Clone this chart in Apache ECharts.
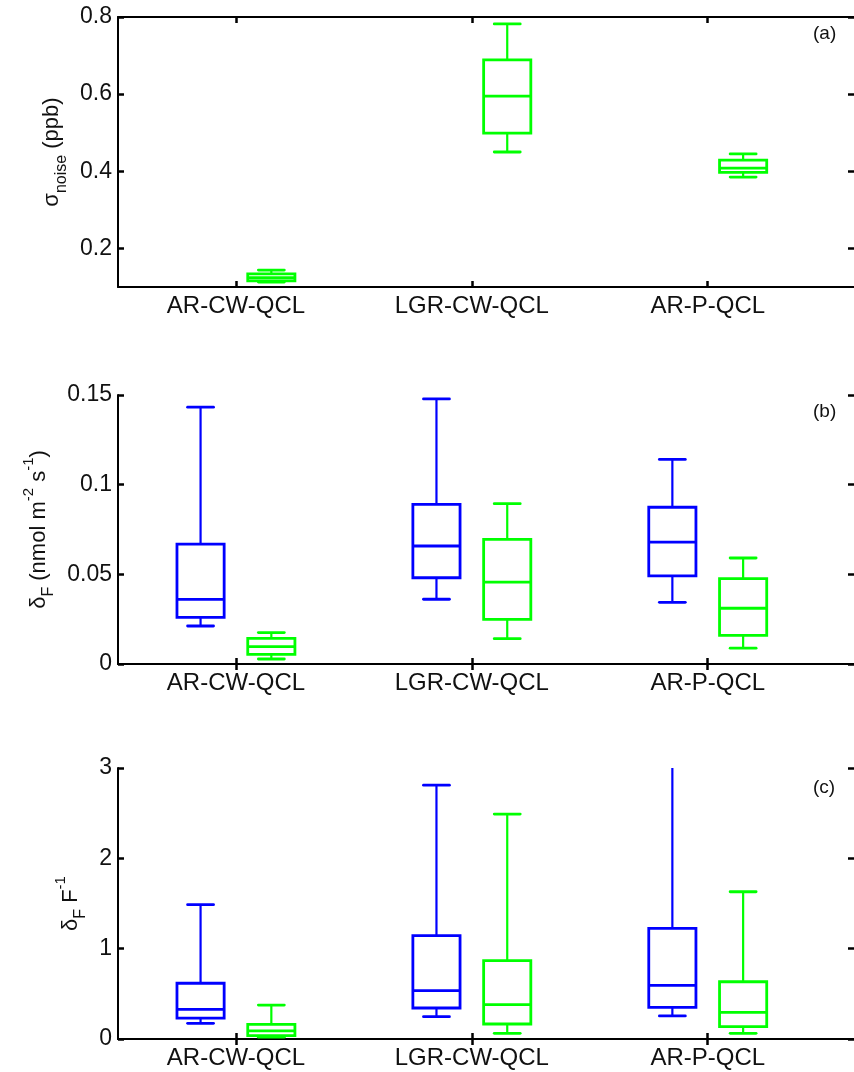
<!DOCTYPE html>
<html lang="en">
<head>
<meta charset="UTF-8">
<title>Noise and flux uncertainty</title>
<script src="https://cdn.jsdelivr.net/npm/echarts@6/dist/echarts.min.js"></script>
<style>
    html, body { margin: 0; padding: 0; background: #fff; }
    #container { width: 854px; height: 1072px; }
</style>
</head>
<body>
<div id="container"></div>
<script type="text/javascript">
    var categories = ['AR-CW-QCL', 'LGR-CW-QCL', 'AR-P-QCL'];

    // box stats per instrument: [min, q1, median, q3, max]
    var noiseGreen = [
        [0.113, 0.116, 0.124, 0.134, 0.144],
        [0.450, 0.499, 0.595, 0.689, 0.782],
        [0.385, 0.397, 0.408, 0.429, 0.445]
    ];
    var fluxBlue = [
        [0.0212, 0.0260, 0.0360, 0.0668, 0.1432],
        [0.0361, 0.0481, 0.0658, 0.0890, 0.1478],
        [0.0344, 0.0491, 0.0680, 0.0874, 0.1141]
    ];
    var fluxGreen = [
        [0.0028, 0.0054, 0.0097, 0.0143, 0.0175],
        [0.0141, 0.0249, 0.0456, 0.0695, 0.0894],
        [0.0088, 0.0160, 0.0311, 0.0476, 0.0591]
    ];
    var relBlue = [
        [0.174, 0.230, 0.329, 0.617, 1.487],
        [0.247, 0.343, 0.535, 1.144, 2.810],
        [0.255, 0.350, 0.594, 1.225, 3.300]
    ];
    var relGreen = [
        [0.020, 0.037, 0.090, 0.163, 0.376],
        [0.063, 0.166, 0.380, 0.867, 2.490],
        [0.063, 0.136, 0.295, 0.634, 1.630]
    ];

    var yTicksA = [0.2, 0.4, 0.6, 0.8];
    var yTicksB = [0, 0.05, 0.1, 0.15];
    var yTicksC = [0, 1, 2, 3];
    var xTicks = [1, 2, 3];

    var BLUE = '#0000ff';
    var GREEN = '#00ff00';
    var FONT = 'Liberation Sans, Arial, sans-serif';
    var BOX_W = 0.2;   // in x units
    var CAP_W = 0.11;

    function toItems(stats, offset) {
        return stats.map(function (s, i) {
            return [i + 1 + offset].concat(s);
        });
    }

    function renderBox(params, api) {
        var x = api.value(0);
        var lo = api.coord([x, api.value(1)]);
        var q1 = api.coord([x, api.value(2)]);
        var md = api.coord([x, api.value(3)]);
        var q3 = api.coord([x, api.value(4)]);
        var hi = api.coord([x, api.value(5)]);
        var bw = api.size([BOX_W, 0])[0] / 2;
        var cw = api.size([CAP_W, 0])[0] / 2;
        var cx = lo[0];
        var col = api.visual('color');
        var thick = { stroke: col, lineWidth: 2.8, fill: null };
        var thin = { stroke: col, lineWidth: 2.2, fill: null };
        var cap = { stroke: col, lineWidth: 2.8, lineCap: 'round' };
        return {
            type: 'group',
            children: [
                { type: 'line', shape: { x1: cx, y1: q3[1], x2: cx, y2: hi[1] }, style: thin },
                { type: 'line', shape: { x1: cx, y1: q1[1], x2: cx, y2: lo[1] }, style: thin },
                { type: 'line', shape: { x1: cx - cw, y1: hi[1], x2: cx + cw, y2: hi[1] }, style: cap },
                { type: 'line', shape: { x1: cx - cw, y1: lo[1], x2: cx + cw, y2: lo[1] }, style: cap },
                { type: 'rect', shape: { x: cx - bw, y: q3[1], width: bw * 2, height: q1[1] - q3[1] }, style: thick },
                { type: 'line', shape: { x1: cx - bw, y1: md[1], x2: cx + bw, y2: md[1] }, style: thick }
            ]
        };
    }

    var grids = [
        { left: 118, width: 737, top: 17, height: 270 },
        { left: 118, width: 737, top: 395, height: 269 },
        { left: 118, width: 737, top: 768, height: 271 }
    ];

    var nameRich = {
        t: { fontSize: 22, lineHeight: 22, verticalAlign: 'top', padding: [7, 0, 0, 0], color: '#111', fontFamily: FONT },
        s: { fontSize: 16, lineHeight: 16, verticalAlign: 'top', padding: [19, 0, 0, 0], color: '#111', fontFamily: FONT },
        p: { fontSize: 15, lineHeight: 15, verticalAlign: 'top', padding: [0, 0, 0, 0], color: '#111', fontFamily: FONT }
    };

    var xAxes = [];
    var yAxes = [];
    grids.forEach(function (g, i) {
        xAxes.push({
            type: 'value', gridIndex: i, min: 0.5, max: 3.62, position: 'bottom',
            axisLine: { lineStyle: { color: '#000', width: 2 } },
            axisTick: { inside: true, length: 6, customValues: xTicks, lineStyle: { color: '#000', width: 2.5 } },
            axisLabel: {
                customValues: xTicks, margin: 7, fontSize: 24, color: '#111', fontFamily: FONT,
                formatter: function (v) { return categories[Math.round(v) - 1]; }
            },
            splitLine: { show: false }
        });
        xAxes.push({
            type: 'value', gridIndex: i, min: 0.5, max: 3.62, position: 'top',
            axisLine: { lineStyle: { color: '#000', width: 2 } },
            axisTick: { inside: true, length: 6, customValues: xTicks, lineStyle: { color: '#000', width: 2.5 } },
            axisLabel: { show: false },
            splitLine: { show: false }
        });
    });

    var yDefs = [
        { min: 0.1, max: 0.8, ticks: yTicksA, name: '{t|σ}{s|noise}{t| (ppb)}', gap: 48 },
        { min: 0, max: 0.15, ticks: yTicksB, name: '{t|δ}{s|F}{t| (nmol m}{p|-2}{t| s}{p|-1}{t|)}', gap: 63 },
        { min: 0, max: 3, ticks: yTicksC, name: '{t|δ}{s|F}{t| F}{p|-1}', gap: 37 }
    ];
    yDefs.forEach(function (d, i) {
        yAxes.push({
            type: 'value', gridIndex: i, min: d.min, max: d.max, position: 'left',
            name: d.name, nameLocation: 'middle', nameRotate: 90, nameGap: d.gap,
            nameTextStyle: { rich: nameRich },
            axisLine: { lineStyle: { color: '#000', width: 2 } },
            axisTick: { inside: true, length: 6, customValues: d.ticks, lineStyle: { color: '#000', width: 2.5 } },
            axisLabel: {
                customValues: d.ticks, margin: 6, fontSize: 23, color: '#111', fontFamily: FONT,
                formatter: function (v) { return String(+v.toFixed(2)); }
            },
            splitLine: { show: false }
        });
        yAxes.push({
            type: 'value', gridIndex: i, min: d.min, max: d.max, position: 'right',
            axisLine: { show: false },
            axisTick: { inside: true, length: 6, customValues: d.ticks, lineStyle: { color: '#000', width: 2.5 } },
            axisLabel: { show: false },
            splitLine: { show: false }
        });
    });

    function boxSeries(stats, offset, color, gi) {
        return {
            type: 'custom',
            xAxisIndex: gi * 2,
            yAxisIndex: gi * 2,
            renderItem: renderBox,
            clip: true,
            itemStyle: { color: color },
            encode: { x: 0, y: [1, 2, 3, 4, 5] },
            data: toItems(stats, offset)
        };
    }

    var option = {
        animation: false,
        backgroundColor: '#fff',
        grid: grids,
        xAxis: xAxes,
        yAxis: yAxes,
        graphic: [
            { type: 'text', left: 813, top: 24, style: { text: '(a)', fontSize: 19, fill: '#111', fontFamily: FONT } },
            { type: 'text', left: 813, top: 402, style: { text: '(b)', fontSize: 19, fill: '#111', fontFamily: FONT } },
            { type: 'text', left: 813, top: 778, style: { text: '(c)', fontSize: 19, fill: '#111', fontFamily: FONT } }
        ],
        series: [
            boxSeries(noiseGreen, 0.15, GREEN, 0),
            boxSeries(fluxBlue, -0.15, BLUE, 1),
            boxSeries(fluxGreen, 0.15, GREEN, 1),
            boxSeries(relBlue, -0.15, BLUE, 2),
            boxSeries(relGreen, 0.15, GREEN, 2)
        ]
    };

    var myChart = echarts.init(document.getElementById('container'), null, { renderer: 'canvas' });
    myChart.setOption(option);
</script>
</body>
</html>
